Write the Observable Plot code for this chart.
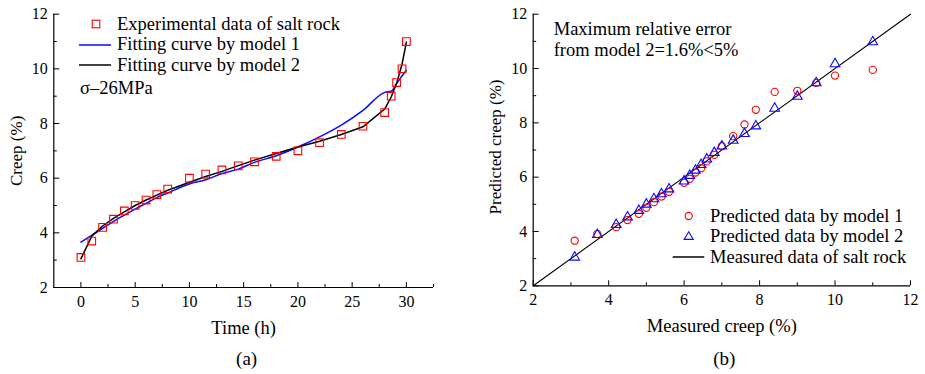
<!DOCTYPE html>
<html>
<head>
<meta charset="utf-8">
<script src="https://cdn.jsdelivr.net/npm/d3@7"></script>
<script src="https://cdn.jsdelivr.net/npm/@observablehq/plot@0.6"></script>
<style>
  html, body { margin: 0; padding: 0; background: #fff; }
  #wrap { position: relative; width: 925px; height: 374px; font-family: "Liberation Serif", "Times New Roman", serif; }
  .panel { position: absolute; top: 0; }
  .leg { position: absolute; font-size: 18.5px; line-height: 1; white-space: nowrap; color: #000; }
</style>
</head>
<body>
<div id="wrap"></div>
<script>
// ---- data ----
const times    = [0, 1, 2, 3, 4, 5, 6, 7, 8, 10, 11.5, 13, 14.5, 16, 18, 20, 22, 24, 26, 28, 28.6, 29.1, 29.6, 30];
const measured = [3.1, 3.7, 4.2, 4.5, 4.8, 5.0, 5.2, 5.4, 5.6, 6.0, 6.15, 6.3, 6.45, 6.6, 6.8, 7.0, 7.3, 7.6, 7.9, 8.4, 9.0, 9.5, 10.0, 11.0];
const model1   = [3.66, 3.91, 4.16, 4.42, 4.65, 4.87, 5.08, 5.29, 5.46, 5.79, 5.94, 6.17, 6.33, 6.58, 6.82, 7.14, 7.51, 7.94, 8.48, 9.14, 9.18, 9.47, 9.74, 9.95];
const model2   = [3.05, 3.88, 4.25, 4.53, 4.77, 5.0, 5.2, 5.38, 5.56, 5.85, 6.06, 6.25, 6.46, 6.66, 6.9, 7.14, 7.35, 7.6, 7.88, 8.53, 8.97, 9.47, 10.17, 10.98];
const identityLine = [2, 12];

const xTicksA = [0, 5, 10, 15, 20, 25, 30];
const xMinorA = [2.5, 7.5, 12.5, 17.5, 22.5, 27.5, 32.5];
const yTicks  = [2, 4, 6, 8, 10, 12];
const yMinor  = [3, 5, 7, 9, 11];
const xTicksB = [2, 4, 6, 8, 10, 12];
const xMinorB = [3, 5, 7, 9, 11];

const FONT = "'Liberation Serif', 'Times New Roman', serif";
const BLUE = "#0a0aff";
const RED = "#ff0000";
const rowsA = times.map((t, i) => ({t, measured: measured[i], m1: model1[i], m2: model2[i]}));

function inwardAxes(xMajor, xMinor, yMajor, yMinorV) {
  return [
    Plot.axisY({ticks: yMajor, tickSize: 6, dx: 6, tickFormat: () => "", label: null}),
    Plot.axisY({ticks: yMinorV, tickSize: 3.5, dx: 3.5, tickFormat: () => "", label: null}),
    Plot.axisY({ticks: yMajor, tickSize: 0, tickPadding: 6, label: null, fontSize: 16, fontFamily: FONT}),
    Plot.axisX({ticks: xMajor, tickSize: 5, dy: -5, tickFormat: () => "", label: null}),
    Plot.axisX({ticks: xMinor, tickSize: 3, dy: -3, tickFormat: () => "", label: null}),
    Plot.axisX({ticks: xMajor, tickSize: 0, tickPadding: 8, label: null, fontSize: 16, fontFamily: FONT})
  ];
}

// ---- panel (a) ----
const plotA = Plot.plot({
  width: 460, height: 374,
  marginLeft: 53.3, marginRight: 27, marginTop: 13.7, marginBottom: 87,
  style: {fontSize: "16px", color: "#000", background: "transparent"},
  x: {domain: [-2.5, 32.5]},
  y: {domain: [2, 12]},
  marks: [
    ...inwardAxes(xTicksA, xMinorA, yTicks, yMinor),
    Plot.ruleX([-2.5], {stroke: "#000", strokeWidth: 1.2}),
    Plot.ruleY([2], {stroke: "#000", strokeWidth: 1.2}),
    Plot.line(rowsA, {x: "t", y: "m1", stroke: BLUE, strokeWidth: 1.5, curve: "monotone-x"}),
    Plot.line(rowsA, {x: "t", y: "m2", stroke: "#000", strokeWidth: 1.5}),
    Plot.dot(rowsA, {x: "t", y: "measured", symbol: "square", r: 4.3, stroke: RED, strokeWidth: 1.1, fill: "none"}),
    Plot.text(["Creep (%)"], {frameAnchor: "left", dx: -37, rotate: -90, textAnchor: "middle", lineAnchor: "middle", fontSize: 17, fontFamily: FONT}),
    Plot.text(["Time (h)"], {frameAnchor: "bottom", dy: 41, textAnchor: "middle", lineAnchor: "middle", fontSize: 18.5, fontFamily: FONT}),
    Plot.text(["(a)"], {frameAnchor: "bottom", dy: 71, dx: 3, textAnchor: "middle", lineAnchor: "middle", fontSize: 19, fontFamily: FONT})
  ]
});

// ---- panel (b) ----
const plotB = Plot.plot({
  width: 465, height: 374,
  marginLeft: 72.7, marginRight: 15, marginTop: 13.7, marginBottom: 88.7,
  style: {fontSize: "16px", color: "#000", background: "transparent"},
  x: {domain: [2, 12]},
  y: {domain: [2, 12]},
  marks: [
    ...inwardAxes(xTicksB, xMinorB, yTicks, yMinor),
    Plot.ruleX([2], {stroke: "#000", strokeWidth: 1.2}),
    Plot.ruleY([2], {stroke: "#000", strokeWidth: 1.2}),
    Plot.line(identityLine, {x: d => d, y: d => d, stroke: "#000", strokeWidth: 1.1}),
    Plot.dot(rowsA, {x: "measured", y: "m1", symbol: "circle", r: 3.6, stroke: RED, strokeWidth: 1.1, fill: "none"}),
    Plot.dot(rowsA, {x: "measured", y: "m2", symbol: "triangle", r: 3.6, stroke: BLUE, strokeWidth: 1.1, fill: "none"}),
    Plot.text(["Maximum relative error\nfrom model 2=1.6%<5%"], {frameAnchor: "top-left", dx: 20.5, dy: 24.8, textAnchor: "start", lineAnchor: "middle", lineHeight: 1.135, fontSize: 18.5, fontFamily: FONT}),
    Plot.text(["Predicted creep (%)"], {frameAnchor: "left", dx: -37.7, dy: -3, rotate: -90, textAnchor: "middle", lineAnchor: "middle", fontSize: 17, fontFamily: FONT}),
    Plot.text(["Measured creep (%)"], {frameAnchor: "bottom", dy: 40.7, textAnchor: "middle", lineAnchor: "middle", fontSize: 18.5, fontFamily: FONT}),
    Plot.text(["(b)"], {frameAnchor: "bottom", dy: 72.7, dx: 2.5, textAnchor: "middle", lineAnchor: "middle", fontSize: 19, fontFamily: FONT})
  ]
});

// force serif on every svg text
for (const p of [plotA, plotB]) {
  p.style.fontFamily = FONT;
  d3.select(p).selectAll("text, tspan").attr("font-family", FONT).style("font-family", FONT);
}

const wrap = document.getElementById("wrap");
const pa = document.createElement("div"); pa.className = "panel"; pa.style.left = "0px"; pa.appendChild(plotA);
const pb = document.createElement("div"); pb.className = "panel"; pb.style.left = "460px"; pb.appendChild(plotB);
wrap.appendChild(pa); wrap.appendChild(pb);

// ---- legends (HTML overlays) ----
const legendA = [
  {label: "Experimental data of salt rock", kind: "square", color: RED, y: 24},
  {label: "Fitting curve by model 1", kind: "line", color: BLUE, y: 44.5},
  {label: "Fitting curve by model 2", kind: "line", color: "#000", y: 65}
];
const legendB = [
  {label: "Predicted data by model 1", kind: "circle", color: RED, y: 216},
  {label: "Predicted data by model 2", kind: "triangle", color: BLUE, y: 236},
  {label: "Measured data of salt rock", kind: "line", color: "#000", y: 257}
];
function symbolSvg(kind, color, cx, lineX1, lineX2) {
  if (kind === "line") return `<line x1="${lineX1}" x2="${lineX2}" y1="0" y2="0" stroke="${color}" stroke-width="1.5"/>`;
  if (kind === "square") return `<rect x="${cx - 3.8}" y="-3.8" width="7.6" height="7.6" fill="none" stroke="${color}" stroke-width="1.1"/>`;
  if (kind === "circle") return `<circle cx="${cx}" cy="0" r="3.6" fill="none" stroke="${color}" stroke-width="1.1"/>`;
  if (kind === "triangle") return `<path d="M${cx},-4.3L${cx + 4.6},3.4L${cx - 4.6},3.4Z" fill="none" stroke="${color}" stroke-width="1.1"/>`;
}
function addLegend(items, symX, lineX1, lineX2, textX) {
  for (const it of items) {
    const s = document.createElementNS("http://www.w3.org/2000/svg", "svg");
    s.setAttribute("width", 1); s.setAttribute("height", 1);
    s.style.position = "absolute"; s.style.left = "0px"; s.style.top = it.y + "px"; s.style.overflow = "visible";
    s.innerHTML = symbolSvg(it.kind, it.color, symX, lineX1, lineX2);
    wrap.appendChild(s);
    const t = document.createElement("div");
    t.className = "leg"; t.textContent = it.label;
    t.style.left = textX + "px"; t.style.top = (it.y - 9.5) + "px";
    wrap.appendChild(t);
  }
}
addLegend(legendA, 96, 79, 111, 117);
addLegend(legendB, 688.7, 672.7, 704.3, 710);
const sig = document.createElement("div");
sig.className = "leg"; sig.textContent = "σ–26MPa";
sig.style.left = "80px"; sig.style.top = (88 - 9.5) + "px";
wrap.appendChild(sig);
</script>
</body>
</html>
